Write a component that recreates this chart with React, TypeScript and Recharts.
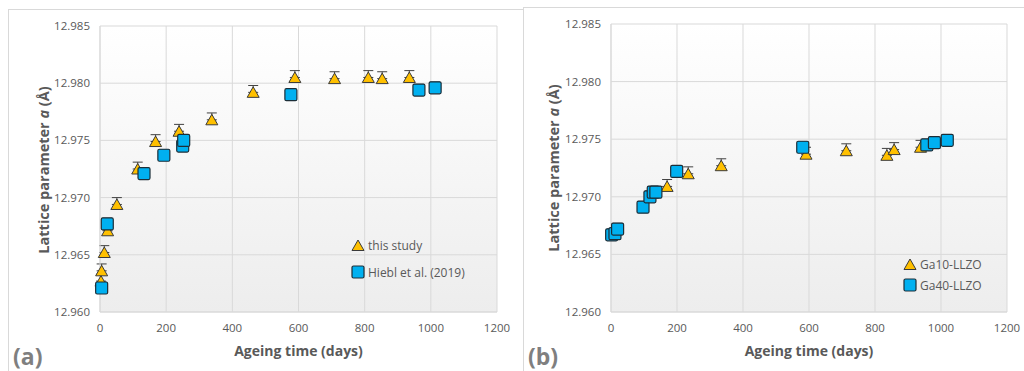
import React from "react";
import {
  ScatterChart,
  Scatter,
  XAxis,
  YAxis,
  CartesianGrid,
  ErrorBar,
  Legend,
} from "recharts";

// panel (a): ageing time (days) and lattice parameter (Å)
const studyAge = [3, 5, 13, 23, 51, 114, 168, 239, 338, 463, 589, 709, 811, 853, 935];
const studyLat = [
  12.9627, 12.9636, 12.9652, 12.9671, 12.9694, 12.9725, 12.9749, 12.9758, 12.9768,
  12.9792, 12.9805, 12.9804, 12.9805, 12.9804, 12.9805,
];
const hieblAge = [5, 22, 133, 193, 250, 253, 577, 964, 1013];
const hieblLat = [12.9621, 12.9677, 12.9721, 12.9737, 12.9745, 12.975, 12.979, 12.9794, 12.9796];

// panel (b)
const ga10Age = [170, 234, 334, 591, 713, 836, 858, 938];
const ga10Lat = [12.9709, 12.972, 12.9727, 12.9737, 12.974, 12.9736, 12.9741, 12.9743];
const ga40Age = [2, 12, 20, 97, 118, 128, 136, 199, 581, 957, 980, 1019];
const ga40Lat = [
  12.9667, 12.9668, 12.9672, 12.9691, 12.97, 12.9704, 12.9704, 12.9722, 12.9743, 12.9745,
  12.9747, 12.9749,
];

// only the upper whisker shows above the markers
const triErr = 0.0006;
const sqErr = 0.0005;

const xTicks = [0, 200, 400, 600, 800, 1000, 1200];
const yTicks = [12.96, 12.965, 12.97, 12.975, 12.98, 12.985];

const FONT = "'Open Sans', sans-serif";
const GREY = "#595959";
const GRID = "#d9d9d9";

function pts(xs: number[], ys: number[], err: number) {
  return xs.map((x, i) => ({ x, y: ys[i], err: [0, err] }));
}

function Tri({ cx, cy }: any) {
  return (
    <path
      d={`M${cx},${cy - 5.5} L${cx + 6},${cy + 5} L${cx - 6},${cy + 5} Z`}
      fill="#FFC000"
      stroke="#3a3a3a"
      strokeWidth={1}
    />
  );
}

function Sq({ cx, cy }: any) {
  return (
    <rect
      x={cx - 6}
      y={cy - 6}
      width={12}
      height={12}
      rx={1.5}
      fill="#00B0F0"
      stroke="#1c2e38"
      strokeWidth={1.2}
    />
  );
}

function LegendBox({ names, gap }: { names: [string, string]; gap: number }) {
  const row = (icon: React.ReactNode, text: string) => (
    <div style={{ display: "flex", alignItems: "center", height: 16 }}>
      <svg width={14} height={16} style={{ marginRight: 3 }}>
        {icon}
      </svg>
      <span style={{ fontFamily: FONT, fontSize: 12, color: GREY }}>{text}</span>
    </div>
  );
  return (
    <div>
      {row(<Tri cx={7} cy={8.5} />, names[0])}
      <div style={{ height: gap - 16 }} />
      {row(<Sq cx={7} cy={8} />, names[1])}
    </div>
  );
}

function Panel({
  id,
  width,
  margin,
  yAxisWidth,
  labelX,
  labelY,
  a,
  b,
  names,
  legendPos,
  legendGap,
}: any) {
  return (
    <ScatterChart width={width} height={371} margin={margin}>
      <defs>
        <linearGradient id={id} x1="0" y1="0" x2="0" y2="1">
          <stop offset="0%" stopColor="#ffffff" />
          <stop offset="100%" stopColor="#ededed" />
        </linearGradient>
      </defs>
      <CartesianGrid stroke={GRID} fill={`url(#${id})`} fillOpacity={1} />
      <XAxis
        type="number"
        dataKey="x"
        domain={[0, 1200]}
        ticks={xTicks}
        tickLine={false}
        tickSize={0}
        tickMargin={12}
        axisLine={{ stroke: GRID }}
        height={45}
        tick={{ fill: GREY, fontSize: 11.5, fontFamily: FONT }}
        label={{
          content: (p: any) => {
            const vb = p.viewBox || {};
            return (
              <text
                x={vb.x + vb.width / 2}
                y={350}
                textAnchor="middle"
                dominantBaseline="central"
                fill={GREY}
                fontSize={14}
                fontWeight={700}
                fontFamily={FONT}
              >
                Ageing time (days)
              </text>
            );
          },
        }}
      />
      <YAxis
        type="number"
        dataKey="y"
        domain={[12.96, 12.985]}
        ticks={yTicks}
        tickFormatter={(v: number) => v.toFixed(3)}
        tickLine={false}
        tickSize={0}
        tickMargin={10}
        axisLine={{ stroke: GRID }}
        width={yAxisWidth}
        tick={{ fill: GREY, fontSize: 11.5, fontFamily: FONT }}
        label={{
          content: () => (
            <text
              x={labelX}
              y={labelY}
              transform={`rotate(-90, ${labelX}, ${labelY})`}
              textAnchor="middle"
              dominantBaseline="central"
              fill={GREY}
              fontSize={14.5}
              fontWeight={700}
              fontFamily={FONT}
            >
              Lattice parameter <tspan fontStyle="italic">a</tspan> (Å)
            </text>
          ),
        }}
      />
      <Scatter name={names[0]} data={a} shape={Tri} isAnimationActive={false}>
        <ErrorBar dataKey="err" direction="y" width={5} stroke="#404040" strokeWidth={1} />
      </Scatter>
      <Scatter name={names[1]} data={b} shape={Sq} isAnimationActive={false}>
        <ErrorBar dataKey="err" direction="y" width={5} stroke="#404040" strokeWidth={1} />
      </Scatter>
      <Legend
        layout="vertical"
        align="center"
        verticalAlign="middle"
        wrapperStyle={{ left: legendPos[0], top: legendPos[1], width: "auto" }}
        content={() => <LegendBox names={names} gap={legendGap} />}
      />
    </ScatterChart>
  );
}

export default function App() {
  const tag = (text: string, left: number) => (
    <div
      style={{
        position: "absolute",
        left,
        top: 340,
        fontFamily: FONT,
        fontSize: 23,
        fontWeight: 700,
        color: "#7f7f7f",
      }}
    >
      {text}
    </div>
  );
  return (
    <div
      style={{
        position: "fixed",
        left: 0,
        top: 0,
        width: 1024,
        height: 371,
        background: "#fff",
        overflow: "hidden",
      }}
    >
      <div
        style={{
          position: "absolute",
          left: 8,
          top: 9,
          width: 514,
          height: 400,
          border: `1px solid ${GRID}`,
        }}
      />
      <div
        style={{
          position: "absolute",
          left: 523,
          top: 7,
          width: 520,
          height: 400,
          border: `1px solid ${GRID}`,
        }}
      />
      <div style={{ position: "absolute", left: 0, top: 0 }}>
        <Panel
          id="bgA"
          width={515}
          margin={{ top: 26, right: 18, bottom: 14, left: 40 }}
          yAxisWidth={60}
          labelX={43}
          labelY={170}
          a={pts(studyAge, studyLat, triErr)}
          b={pts(hieblAge, hieblLat, sqErr)}
          names={["this study", "Hiebl et al. (2019)"]}
          legendPos={[351, 237]}
          legendGap={27}
        />
      </div>
      <div style={{ position: "absolute", left: 515, top: 0 }}>
        <Panel
          id="bgB"
          width={509}
          margin={{ top: 24, right: 17, bottom: 14, left: 36 }}
          yAxisWidth={60}
          labelX={38}
          labelY={168}
          a={pts(ga10Age, ga10Lat, triErr)}
          b={pts(ga40Age, ga40Lat, sqErr)}
          names={["Ga10-LLZO", "Ga40-LLZO"]}
          legendPos={[388, 256]}
          legendGap={21}
        />
      </div>
      {tag("(a)", 13)}
      {tag("(b)", 528)}
    </div>
  );
}
